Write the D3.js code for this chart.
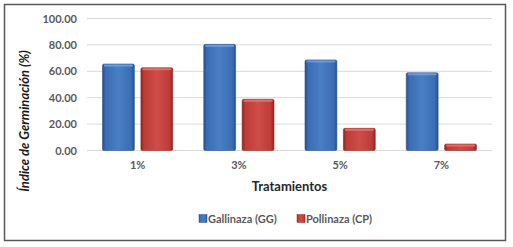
<!DOCTYPE html>
<html>
<head>
<meta charset="utf-8">
<script src="https://cdn.jsdelivr.net/npm/d3@7"></script>
<style>
  body { margin: 0; background: #fff; }
  text { font-family: Lato, "Open Sans", sans-serif; }
</style>
</head>
<body>
<div id="chart"></div>
<script>
// Data
const categories = ["1%", "3%", "5%", "7%"];
const seriesNames = ["Gallinaza (GG)", "Pollinaza (CP)"];
const gallinaza = [65.5, 80.4, 68.6, 58.9];
const pollinaza = [62.7, 38.8, 16.8, 4.9];
const yTicks = [0, 20, 40, 60, 80, 100];

const W = 513, H = 247;
const margin = {top: 18.5, right: 21, bottom: 96.5, left: 87};
const width = W - margin.left - margin.right,
    height = H - margin.top - margin.bottom;

const svg = d3.select("#chart")
  .append("svg")
    .attr("width", W)
    .attr("height", H);

// Outer frame
svg.append("rect")
    .attr("x", 4.5).attr("y", 4.5)
    .attr("width", 501).attr("height", 236)
    .attr("fill", "#fff")
    .attr("stroke", "#595959")
    .attr("stroke-width", 1.5);

// Gradients for the bevelled bars
const defs = svg.append("defs");
function barGradient(id, dark, mid, light) {
  const g = defs.append("linearGradient").attr("id", id)
    .attr("x1", "0%").attr("x2", "100%").attr("y1", "0%").attr("y2", "0%");
  g.append("stop").attr("offset", "0%").attr("stop-color", dark);
  g.append("stop").attr("offset", "10%").attr("stop-color", mid);
  g.append("stop").attr("offset", "50%").attr("stop-color", light);
  g.append("stop").attr("offset", "90%").attr("stop-color", mid);
  g.append("stop").attr("offset", "100%").attr("stop-color", dark);
}
barGradient("gradBlue", "#24508c", "#3a6db3", "#4a7fc4");
barGradient("gradRed", "#8e2422", "#be3b37", "#cf4d49");
const colors = ["#3a6db3", "#be3b37"];
const grads = ["url(#gradBlue)", "url(#gradRed)"];
const topColors = ["#7aa3dc", "#e27b77"];

const g = svg.append("g")
    .attr("transform", `translate(${margin.left}, ${margin.top})`);

const x = d3.scaleBand()
  .domain(categories)
  .range([0, width])
  .paddingInner(0)
  .paddingOuter(0);

const x1 = d3.scaleBand()
  .domain(seriesNames)
  .range([15.5, x.bandwidth() - 15.5])
  .paddingInner(0.17);

const y = d3.scaleLinear()
  .domain([0, 100])
  .range([height, 0]);

// Gridlines
g.append("g")
  .selectAll("line")
  .data(yTicks)
  .join("line")
    .attr("x1", 0).attr("x2", width)
    .attr("y1", d => y(d)).attr("y2", d => y(d))
    .attr("stroke", "#d9d9d9")
    .attr("stroke-width", 1);

// Y axis labels
const yAxis = g.append("g")
  .call(d3.axisLeft(y).tickValues(yTicks).tickFormat(d3.format(".2f")).tickSize(0).tickPadding(10));
yAxis.select(".domain").remove();
yAxis.selectAll("text")
  .style("font-size", "11px")
  .style("font-weight", "bold")
  .attr("fill", "#595959");

// X axis labels
const xAxis = g.append("g")
  .attr("transform", `translate(0, ${height})`)
  .call(d3.axisBottom(x).tickSize(0).tickPadding(11));
xAxis.select(".domain").remove();
xAxis.selectAll("text")
  .style("font-size", "11px")
  .style("font-weight", "bold")
  .attr("fill", "#595959");

// Bars
const rows = categories.map((c, i) => ({cat: c, vals: [gallinaza[i], pollinaza[i]]}));
const groups = g.append("g")
  .selectAll("g")
  .data(rows)
  .join("g")
    .attr("transform", d => `translate(${x(d.cat)}, 0)`);

groups.selectAll("rect.bar")
  .data(d => d.vals.map((v, k) => ({name: seriesNames[k], v: v, k: k})))
  .join("rect")
    .attr("class", "bar")
    .attr("x", d => x1(d.name))
    .attr("y", d => y(d.v))
    .attr("width", x1.bandwidth())
    .attr("height", d => y(0) - y(d.v))
    .attr("rx", 1.5)
    .attr("fill", d => grads[d.k])
    .attr("stroke", d => d.k === 0 ? "#2a5592" : "#932b29")
    .attr("stroke-width", 0.6);

// light top bevel
groups.selectAll("rect.bevel")
  .data(d => d.vals.map((v, k) => ({name: seriesNames[k], v: v, k: k})))
  .join("rect")
    .attr("class", "bevel")
    .attr("x", d => x1(d.name) + 1.5)
    .attr("y", d => y(d.v) + 0.5)
    .attr("width", x1.bandwidth() - 3)
    .attr("height", 2)
    .attr("fill", d => topColors[d.k])
    .attr("opacity", 0.8);

// X axis title
g.append("text")
    .attr("x", width / 2)
    .attr("y", height + 40)
    .attr("text-anchor", "middle")
    .style("font-size", "13px")
    .style("font-weight", "bold")
    .attr("fill", "#262626")
    .text("Tratamientos");

// Y axis title
svg.append("text")
    .attr("transform", "rotate(-90)")
    .attr("x", -121)
    .attr("y", 29)
    .attr("text-anchor", "middle")
    .style("font-size", "13px")
    .style("font-weight", "bold")
    .style("font-style", "italic")
    .attr("fill", "#1a1a1a")
    .text("Índice de Germinación (%)");

// Legend
const legendX = [199, 297];
const legend = svg.append("g");
seriesNames.forEach((name, k) => {
  legend.append("rect")
      .attr("x", legendX[k])
      .attr("y", 214.5)
      .attr("width", 8)
      .attr("height", 8)
      .attr("fill", grads[k])
      .attr("stroke", k === 0 ? "#2a5592" : "#932b29")
      .attr("stroke-width", 0.5);
  legend.append("text")
      .attr("x", legendX[k] + 9)
      .attr("y", 222.5)
      .style("font-size", "11px")
      .style("font-weight", "bold")
      .attr("fill", "#595959")
      .text(name);
});
</script>
</body>
</html>
